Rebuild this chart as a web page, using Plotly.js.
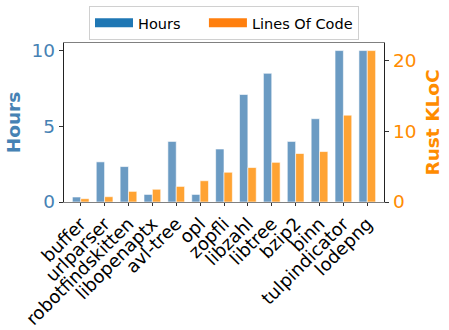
<!DOCTYPE html>
<html>
<head>
<meta charset="utf-8">
<script src="https://cdn.plot.ly/plotly-3.0.1.min.js"></script>
<style>
  body { margin: 0; background: #fff; }
  #chart { width: 449px; height: 330px; }
</style>
</head>
<body>
<div id="chart"></div>
<script>
var projects = ['buffer', 'urlparser', 'robotfindskitten', 'libopenaptx', 'avl-tree', 'opl',
  'zopfli', 'libzahl', 'libtree', 'bzip2', 'binn', 'tulpindicator', 'lodepng'];
var hours = [0.33, 2.65, 2.34, 0.5, 4.0, 0.5, 3.5, 7.1, 8.5, 4.0, 5.5, 10, 10];
var kloc = [0.47, 0.75, 1.5, 1.8, 2.2, 3.0, 4.2, 4.86, 5.6, 6.84, 7.12, 12.26, 21.37];

var blue = 'rgb(70,130,180)';
var orange = 'rgb(255,140,0)';
var fnt = 'DejaVu Sans, sans-serif';
var gap = '\u00a0\u00a0\u00a0\u00a0';

var hoursBar = {
  type: 'bar', x: projects, y: hours, name: 'Hours',
  width: 0.35, offset: -0.35,
  marker: { color: 'rgba(70,130,180,0.8)', line: { color: 'white', width: 0.6 } },
  showlegend: false
};
var klocBar = {
  type: 'bar', x: projects, y: kloc, name: 'Lines Of Code', yaxis: 'y2',
  width: 0.35, offset: 0,
  marker: { color: 'rgba(255,140,0,0.8)', line: { color: 'white', width: 0.6 } },
  showlegend: false
};
// legend-only entries (thick line = wide patch), on a hidden axis pair
var legHours = { type: 'scatter', mode: 'lines', x: [null], y: [null], name: 'Hours' + gap,
  xaxis: 'x2', yaxis: 'y3', line: { color: '#1f77b4', width: 9 } };
var legKloc = { type: 'scatter', mode: 'lines', x: [null], y: [null], name: 'Lines Of Code',
  xaxis: 'x2', yaxis: 'y3', line: { color: '#ff7f0e', width: 9 } };

var layout = {
  width: 449, height: 330,
  margin: { l: 64, r: 65, t: 43, b: 128 },
  paper_bgcolor: 'white', plot_bgcolor: 'white',
  font: { family: fnt, size: 17, color: '#000' },
  showlegend: true,
  legend: {
    orientation: 'h', xref: 'paper', x: 0.5, xanchor: 'center',
    yref: 'container', y: 0.982, yanchor: 'top',
    font: { size: 14.5 }, bordercolor: '#d0d0d0', borderwidth: 1, bgcolor: 'white',
    traceorder: 'normal', itemwidth: 38
  },
  xaxis: {
    type: 'category', range: [-0.7, 12.7], tickangle: -45,
    showline: true, linecolor: '#808080', linewidth: 1.2, mirror: true,
    ticks: 'outside', ticklen: 3, tickcolor: '#333',
    tickfont: { size: 18, color: '#000' }, showgrid: false, fixedrange: true
  },
  yaxis: {
    range: [0, 10.5], tickvals: [0, 5, 10],
    showline: true, linecolor: '#222', linewidth: 1.2,
    ticks: 'outside', ticklen: 4, tickcolor: '#333',
    tickfont: { size: 18.5, color: blue }, showgrid: false, zeroline: false,
    title: { text: '<b>Hours</b>', font: { size: 18.5, color: blue }, standoff: 6 }
  },
  yaxis2: {
    overlaying: 'y', side: 'right', range: [0, 22.44], tickvals: [0, 10, 20],
    showline: true, linecolor: '#222', linewidth: 1.2,
    ticks: 'outside', ticklen: 4, tickcolor: '#333',
    tickfont: { size: 18.5, color: orange }, showgrid: false, zeroline: false,
    title: { text: '<b>Rust KLoC</b>', font: { size: 18.5, color: orange }, standoff: 10 }
  },
  xaxis2: { domain: [0, 0.01], anchor: 'y3', visible: false },
  yaxis3: { domain: [0, 0.01], anchor: 'x2', visible: false }
};

Plotly.newPlot('chart', [hoursBar, klocBar, legHours, legKloc], layout, { displayModeBar: false, staticPlot: true });
</script>
</body>
</html>
